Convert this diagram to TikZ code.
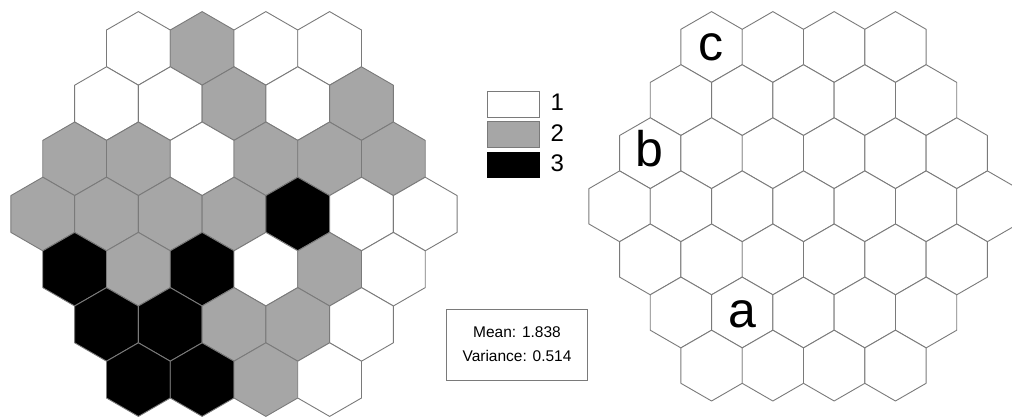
\documentclass[tikz,border=0pt]{standalone}
\usepackage{fontspec}
\setmainfont{Liberation Sans}
\definecolor{c1}{HTML}{FFFFFF}
\definecolor{c2}{HTML}{A6A6A6}
\definecolor{c3}{HTML}{000000}
\definecolor{edgegray}{HTML}{7A7A7A}
\tikzset{
  hex/.style={draw=edgegray, line width=0.9pt, line join=round},
  letterlbl/.style={anchor=base, inner sep=0pt, font=\fontsize{50}{50}\selectfont},
  legbox/.style={draw=edgegray, line width=0.9pt, minimum width=52pt, minimum height=25.5pt, inner sep=0pt},
  leglbl/.style={anchor=base west, inner sep=0pt, font=\fontsize{24}{24}\selectfont},
  statlbl/.style={anchor=base, inner sep=0pt, font=\fontsize{15.5}{15.5}\selectfont},
}
\begin{document}
\begin{tikzpicture}[x=1pt,y=-1pt]
\useasboundingbox (0,0) rectangle (1012,417);
\clip (0,0) rectangle (1012,417);
% left coloured grid
\foreach \r/\cols in {-3/{1,2,1,1},-2/{1,1,2,1,2},-1/{2,2,1,2,2,2},0/{2,2,2,2,3,1,1},1/{3,2,3,1,2,1},2/{3,3,2,2,1},3/{3,3,2,1}}{
  \pgfmathsetmacro\n{7-abs(\r)}
  \foreach \c [count=\k from 0] in \cols {
    \pgfmathsetmacro\hx{234+(\k-(\n-1)/2)*63.74}
    \pgfmathsetmacro\hy{214+\r*55.2}
    \draw[hex, fill=c\c, shift={(\hx,\hy)}] (90:36.8) -- (150:36.8) -- (210:36.8) -- (270:36.8) -- (330:36.8) -- (30:36.8) -- cycle;
  }
}
% right empty grid
\foreach \r in {-3,...,3}{
  \pgfmathtruncatemacro\n{7-abs(\r)}
  \foreach \k in {1,...,\n}{
    \pgfmathsetmacro\hx{803.5+(\k-1-(\n-1)/2)*61.3}
    \pgfmathsetmacro\hy{206.3+\r*53.1}
    \draw[hex, fill=white, shift={(\hx,\hy)}] (90:35.4) -- (150:35.4) -- (210:35.4) -- (270:35.4) -- (330:35.4) -- (30:35.4) -- cycle;
  }
}
\node[letterlbl] (lc) at (710.7,61) {c};
\node[letterlbl] (lb) at (649.5,167) {b};
\node[letterlbl] (la) at (742.3,327.5) {a};
% legend
\node[legbox, fill=c1] (k1) at (513.9,104.5) {};
\node[legbox, fill=c2] (k2) at (513.9,134.5) {};
\node[legbox, fill=c3, draw=black] (k3) at (513.9,164.8) {};
\node[leglbl] (t1) at (550.5,110.7) {1};
\node[leglbl] (t2) at (550.5,141.7) {2};
\node[leglbl] (t3) at (550.5,171.7) {3};
% statistics box
\node[draw=edgegray, line width=0.9pt, minimum width=141pt, minimum height=71pt, inner sep=0pt] (stats) at (516.5,344.5) {};
\node[statlbl] (mean) at (517,337.7) {Mean: 1.838};
\node[statlbl] (var) at (517,361.7) {Variance: 0.514};
\end{tikzpicture}
\end{document}
